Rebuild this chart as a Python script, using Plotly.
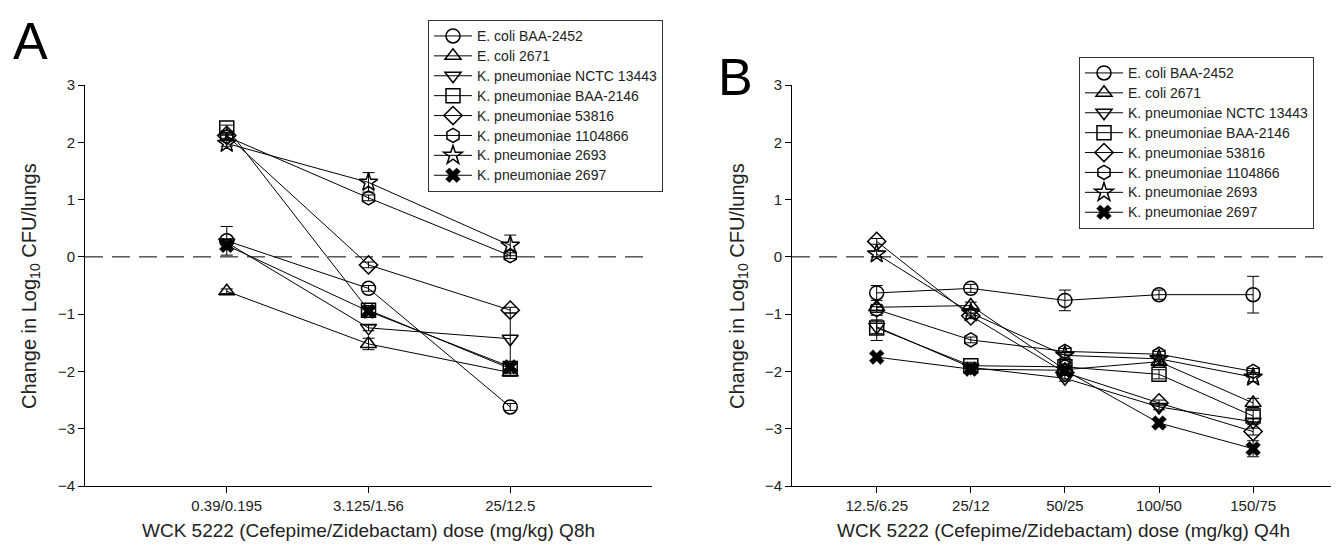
import plotly.graph_objects as go

# ---------------- data ----------------
series_names = ["E. coli BAA-2452", "E. coli 2671", "K. pneumoniae NCTC 13443",
                "K. pneumoniae BAA-2146", "K. pneumoniae 53816", "K. pneumoniae 1104866",
                "K. pneumoniae 2693", "K. pneumoniae 2697"]

doses_A = ["0.39/0.195", "3.125/1.56", "25/12.5"]
vals_A = [
    [0.28, -0.55, -2.62],
    [-0.60, -1.52, -2.02],
    [0.25, -1.24, -1.43],
    [2.25, -0.93, -1.95],
    [2.12, -0.14, -0.93],
    [2.10, 1.03, 0.02],
    [1.98, 1.30, 0.20],
    [0.20, -0.95, -1.92],
]
err_A = [
    [0.25, 0.05, 0.06],
    [0.04, 0.10, 0.06],
    [0.05, 0.05, 0.45],
    [0.05, 0.08, 0.08],
    [0.05, 0.05, 0.05],
    [0.05, 0.05, 0.05],
    [0.05, 0.17, 0.18],
    [0.05, 0.05, 0.05],
]

doses_B = ["12.5/6.25", "25/12", "50/25", "100/50", "150/75"]
vals_B = [
    [-0.63, -0.55, -0.76, -0.66, -0.66],
    [-0.88, -0.85, -1.97, -1.83, -2.55],
    [-1.22, -1.93, -2.12, -2.62, -2.88],
    [-1.24, -1.90, -1.92, -2.05, -2.78],
    [0.27, -1.03, -2.02, -2.55, -3.05],
    [-0.92, -1.45, -1.65, -1.70, -2.00],
    [0.05, -0.98, -1.72, -1.78, -2.10],
    [-1.75, -1.96, -1.98, -2.90, -3.35],
]
err_B = [
    [0.13, 0.07, 0.18, 0.08, 0.32],
    [0.05, 0.06, 0.05, 0.05, 0.08],
    [0.12, 0.05, 0.05, 0.05, 0.05],
    [0.22, 0.06, 0.05, 0.08, 0.10],
    [0.05, 0.05, 0.05, 0.05, 0.06],
    [0.05, 0.05, 0.05, 0.05, 0.05],
    [0.05, 0.05, 0.05, 0.05, 0.08],
    [0.05, 0.05, 0.05, 0.05, 0.14],
]

symbols = ["circle-open", "triangle-up-open", "triangle-down-open", "square-open",
           "diamond-open", "hexagon-open", "star-open", "x"]

x_title_A = "WCK 5222 (Cefepime/Zidebactam) dose (mg/kg) Q8h"
x_title_B = "WCK 5222 (Cefepime/Zidebactam) dose (mg/kg) Q4h"
y_title = "Change in Log<sub>10</sub> CFU/lungs"

# ---------------- geometry helpers (page has an 8px body margin) ----------------
OFF = 8
W, H = 1339 - OFF, 548 - OFF
def px(x):
    return (x - OFF) / W
def py(y):
    return 1 - (y - OFF) / H

FONT = "Arial, Liberation Sans, sans-serif"
TXT = "#222"

fig = go.Figure()

def add_panel(doses, vals, errs, xa, ya, legend):
    xs = list(range(1, len(doses) + 1))
    for i, name in enumerate(series_names):
        sym = symbols[i]
        is_x = sym == "x"
        fig.add_trace(go.Scatter(
            x=xs, y=vals[i], mode="lines+markers",
            name='<span style="font-size:14px">' + name + '</span>',
            xaxis=xa, yaxis=ya, legend=legend,
            line=dict(color="black", width=1),
            marker=dict(symbol=sym, size=14 if not is_x else 13,
                        color="black",
                        line=dict(color="black", width=1.5 if not is_x else 0.5)),
            error_y=dict(type="data", array=errs[i], visible=True,
                         color="black", thickness=1, width=6),
        ))

add_panel(doses_A, vals_A, err_A, "x", "y", "legend")
add_panel(doses_B, vals_B, err_B, "x2", "y2", "legend2")

ydom = [py(486), py(85)]

axis_common = dict(showgrid=False, zeroline=False, showline=True, linecolor="black",
                   linewidth=1, ticks="outside", ticklen=6, tickcolor="black",
                   automargin=False,
                   tickfont=dict(family=FONT, size=15, color=TXT))

leg_common = dict(xanchor="left", yanchor="top", bordercolor="#333", borderwidth=1,
                  bgcolor="white", font=dict(family=FONT, size=13, color=TXT),
                  itemwidth=38, tracegroupgap=0)

fig.update_layout(
    width=W, height=H, margin=dict(l=0, r=0, t=0, b=0, autoexpand=False),
    paper_bgcolor="white", plot_bgcolor="white",
    font=dict(family=FONT, color=TXT),
    xaxis=dict(domain=[px(85), px(652)], range=[0, 4], tickvals=[1, 2, 3],
               ticktext=doses_A, anchor="y", **axis_common),
    yaxis=dict(domain=ydom, range=[-4, 3], tickvals=[-4, -3, -2, -1, 0, 1, 2, 3],
               anchor="x", **axis_common),
    xaxis2=dict(domain=[px(792), px(1335)], range=[0.1, 5.87], tickvals=[1, 2, 3, 4, 5],
                ticktext=doses_B, anchor="y2", **axis_common),
    yaxis2=dict(domain=ydom, range=[-4, 3], tickvals=[-4, -3, -2, -1, 0, 1, 2, 3],
                anchor="x2", **axis_common),
    legend=dict(x=px(428), y=py(20), **leg_common),
    legend2=dict(x=px(1079), y=py(57), **leg_common),
    showlegend=True,
)

# dashed zero lines
for xr, yr in [("x domain", "y"), ("x2 domain", "y2")]:
    fig.add_shape(type="line", xref=xr, yref=yr, x0=0, x1=1, y0=0, y1=0,
                  line=dict(color="black", width=1, dash="18px,9px"), layer="below")

# axis titles as annotations
for txt, xc in [(x_title_A, 368), (x_title_B, 1063)]:
    fig.add_annotation(text=txt, x=px(xc), y=py(530), xref="paper", yref="paper",
                       showarrow=False, xanchor="center", yanchor="middle",
                       font=dict(family=FONT, size=19, color=TXT))
for xc in [30, 738]:
    fig.add_annotation(text=y_title, x=px(xc), y=py(286), xref="paper", yref="paper",
                       showarrow=False, xanchor="center", yanchor="middle", textangle=-90,
                       font=dict(family=FONT, size=20, color=TXT))

# panel labels
fig.add_annotation(text="A", x=px(30), y=py(41), xref="paper", yref="paper",
                   showarrow=False, xanchor="center", yanchor="middle",
                   font=dict(family=FONT, size=52, color="black"))
fig.add_annotation(text="B", x=px(735), y=py(77), xref="paper", yref="paper",
                   showarrow=False, xanchor="center", yanchor="middle",
                   font=dict(family=FONT, size=52, color="black"))

fig.write_html("out.html")
